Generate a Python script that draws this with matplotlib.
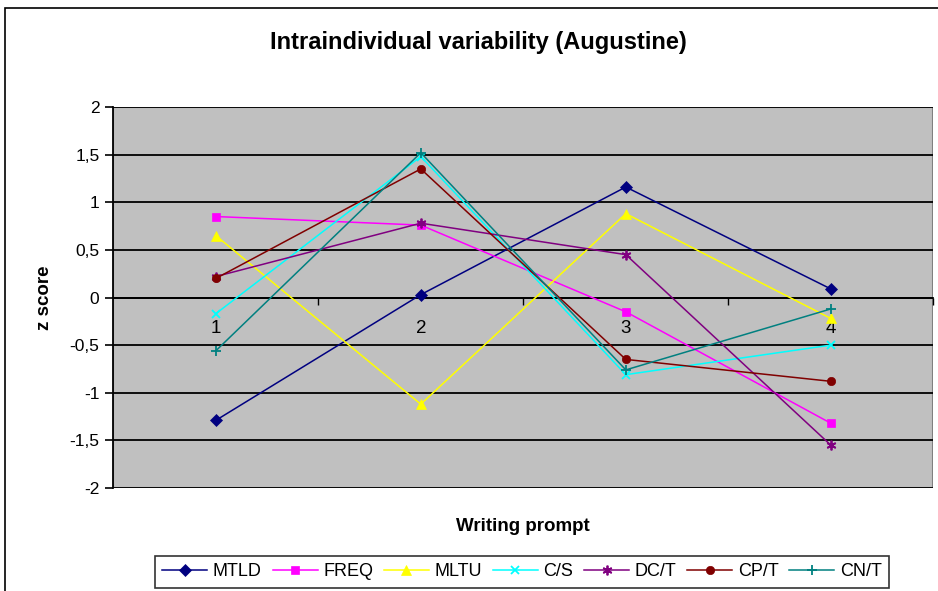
import numpy as np
import matplotlib.pyplot as plt
from matplotlib.patches import Rectangle

plt.rcParams['font.family'] = ['Liberation Sans', 'DejaVu Sans']

prompts = [1, 2, 3, 4]
mtld = [-1.29, 0.03, 1.16, 0.09]
freq = [0.85, 0.76, -0.15, -1.32]
mltu = [0.65, -1.12, 0.88, -0.22]
cs = [-0.17, 1.48, -0.81, -0.50]
dct = [0.22, 0.78, 0.45, -1.55]
cpt = [0.20, 1.35, -0.65, -0.88]
cnt = [-0.56, 1.52, -0.76, -0.12]

series = [
    ("MTLD", mtld, "#000080", "D", 6),
    ("FREQ", freq, "#FF00FF", "s", 6),
    ("MLTU", mltu, "#FFFF00", "^", 7),
    ("C/S", cs, "#00FFFF", "x", 6),
    ("DC/T", dct, "#800080", (6, 2, 0), 7),
    ("CP/T", cpt, "#800000", "o", 6),
    ("CN/T", cnt, "#008080", "+", 7),
]

fig = plt.figure(figsize=(9.38, 5.91), dpi=100)
fig.patches.append(Rectangle((5 / 938, -0.1), 1.2, 0.1 + 1 - 8 / 591,
                             transform=fig.transFigure, fill=False,
                             edgecolor="black", linewidth=1.2))
ax = fig.add_axes([113.3 / 938, 1 - 488 / 591, 820 / 938, 381 / 591])
ax.set_facecolor("#C0C0C0")

for name, vals, col, mk, ms in series:
    ax.plot(prompts, vals, color=col, marker=mk, markersize=ms, lw=1.1,
            markeredgewidth=1.3 if mk in ("x", "+", (6, 2, 0)) else 0.5,
            markeredgecolor=col, label=name, clip_on=False, zorder=3)

ax.set_xlim(0.5, 4.5)
ax.set_ylim(-2, 2)
yt = np.arange(-2, 2.01, 0.5)
ax.set_yticks(yt)
ax.set_yticklabels([("%g" % v).replace(".", ",") for v in yt], fontsize=12.5)
ax.grid(axis="y", color="black", linewidth=1.3)
ax.set_axisbelow(True)

ax.spines["bottom"].set_position(("data", 0))
ax.spines["bottom"].set_linewidth(1.3)
ax.spines["left"].set_linewidth(1.3)
ax.spines["top"].set_visible(False)
ax.spines["right"].set_visible(False)
ax.add_patch(Rectangle((0, 0), 1, 1, transform=ax.transAxes, fill=False,
                       edgecolor="#808080", linewidth=1.5, zorder=0.5))

ax.set_xticks([1.5, 2.5, 3.5, 4.5])
ax.set_xticklabels([])
ax.set_xticks(prompts, minor=True)
ax.set_xticklabels([str(p) for p in prompts], minor=True, fontsize=13.5)
ax.tick_params(axis="x", which="major", direction="out", length=5, width=1)
ax.tick_params(axis="x", which="minor", length=0, pad=16)
ax.tick_params(axis="y", direction="out", length=6, width=1.2, pad=4)

ax.set_ylabel("z score", fontsize=13.5, fontweight="bold")
ax.yaxis.set_label_coords(-0.0735, 0.5)
ax.set_xlabel("Writing prompt", fontsize=13.5, fontweight="bold")
ax.xaxis.set_label_coords(0.5, -0.078)

fig.text(478 / 938, 1 - 43 / 591, "Intraindividual variability (Augustine)",
         ha="center", va="center", fontsize=17, fontweight="bold")

leg = fig.legend(loc="center", bbox_to_anchor=(522 / 938, 1 - 572 / 591),
                 ncol=7, fontsize=13, frameon=True, fancybox=False,
                 edgecolor="black", handlelength=2.5, handletextpad=0.3,
                 columnspacing=0.6, borderpad=0.4, borderaxespad=0)
leg.get_frame().set_linewidth(1.2)

fig.savefig("out.png", dpi=100)
